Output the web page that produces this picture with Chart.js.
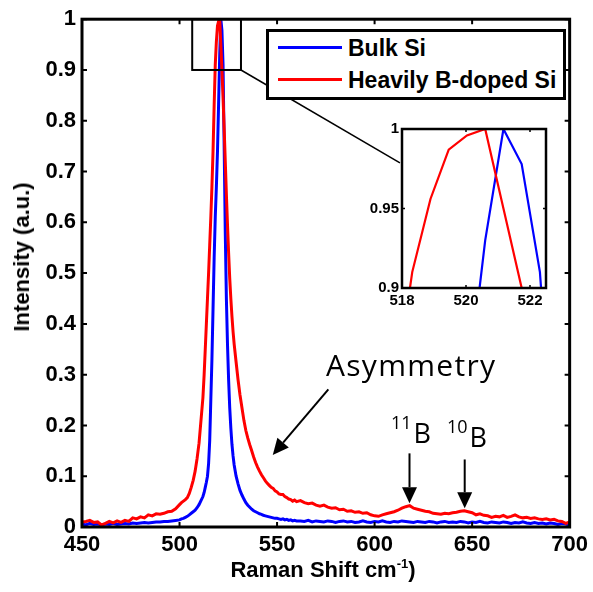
<!DOCTYPE html>
<html>
<head>
<meta charset="UTF-8" />
<title>Raman spectra: bulk vs heavily B-doped Si</title>
<script src="https://cdn.jsdelivr.net/npm/chart.js"></script>
<style>
  body { margin: 0; background: #fff; }
  #wrap { position: relative; width: 593px; height: 592px; overflow: hidden; background: #fff;
          font-family: 'Liberation Sans', Arial, sans-serif; color: #000; }
  canvas { position: absolute; }
  #main { left: 0; top: 0; }
  #inset { left: 355px; top: 112px; }
  .lbl { position: absolute; white-space: nowrap; line-height: 1; }
  .axis-title { font-weight: bold; font-size: 22px; }
  .axis-title sup { font-size: 13px; vertical-align: baseline; position: relative; top: -9px; }
  .note { font-family: 'Open Sans', 'Noto Sans', sans-serif; }
  .note .iso { font-size: 18px; position: relative; top: -14px; margin-right: 2px; }
  .legend { position: absolute; left: 266px; top: 29px; width: 300px; height: 71px;
            box-sizing: border-box; border: 3px solid #000; background: #fff; }
  .legend .sample { position: absolute; left: 9px; width: 64px; height: 3px; }
  .legend .txt { position: absolute; left: 79px; font-weight: bold; font-size: 23px; line-height: 1; white-space: nowrap; }
</style>
</head>
<body>
<div id="wrap">
  <canvas id="main" width="593" height="592" style="width:593px;height:592px"></canvas>
  <canvas id="inset" width="200" height="200" style="width:200px;height:200px"></canvas>

  <div class="legend">
    <div class="sample" style="top:14px;background:#0000ff"></div>
    <div class="txt" style="top:5px">Bulk Si</div>
    <div class="sample" style="top:46px;background:#ff0000"></div>
    <div class="txt" style="top:37px">Heavily B-doped Si</div>
  </div>

  <div class="lbl axis-title" style="left:323px;top:559px;transform:translateX(-50%)">Raman Shift cm<sup>-1</sup>)</div>
  <div class="lbl axis-title" style="left:22px;top:257px;transform:translate(-50%,-50%) rotate(-90deg)">Intensity (a.u.)</div>

  <div class="lbl note" style="left:326px;top:350px;font-size:30px;letter-spacing:1.3px">Asymmetry</div>
  <div class="lbl note" style="left:391px;top:419px;font-size:27px"><span class="iso">11</span>B</div>
  <div class="lbl note" style="left:447px;top:423px;font-size:27px"><span class="iso">10</span>B</div>
</div>

<script>
// Raman shift (cm-1), shared by both spectra
const ramanShift = [
  450, 452, 454, 456, 458, 460, 462, 464, 466, 468, 470, 472, 474, 476, 478, 480, 482, 484, 486, 488, 490, 492, 494, 496, 498,
  500, 501, 502, 503, 504, 505, 506, 507, 508, 509, 510, 511, 512,
  512.62, 513.19, 513.76, 514.33, 514.90, 515.47, 516.04, 516.61, 517.18, 517.75, 518.32, 518.89, 519.46, 520.03,
  520.60,
  521.17, 521.74, 522.31, 522.88, 523.45, 524.02, 524.59, 525.16, 525.73, 526.30, 526.87, 527.44, 528.01,
  529, 530, 531, 532, 533, 534, 535, 536, 537, 538, 539, 540, 541, 542, 543, 544, 545, 546, 547, 548, 549, 550, 551, 552, 553, 554, 555, 556, 557, 558, 559, 560,
  562, 564, 566, 568, 570, 572, 574, 576, 578, 580, 582, 584, 586, 588, 590, 592, 594, 596, 598, 600,
  602, 604, 606, 608, 610, 612, 614, 616, 618, 620, 622, 624, 626, 628, 630, 632, 634, 636, 638, 640,
  642, 644, 646, 648, 650, 652, 654, 656, 658, 660, 662, 664, 666, 668, 670, 672, 674, 676, 678, 680,
  682, 684, 686, 688, 690, 692, 694, 696, 698, 700
]

// Bulk Si, normalised intensity
const bulkIntensity = [
  0.006, 0.004, 0.007, 0.005, 0.006, 0.004, 0.006, 0.005, 0.007, 0.005, 0.006, 0.007, 0.006, 0.008, 0.007, 0.008, 0.009, 0.008, 0.009, 0.010, 0.010, 0.011, 0.011, 0.012, 0.013,
  0.014, 0.016, 0.017, 0.019, 0.021, 0.024, 0.027, 0.030, 0.033, 0.038, 0.044, 0.052, 0.060,
  0.068, 0.078, 0.088, 0.100, 0.125, 0.170, 0.250, 0.330, 0.430, 0.530, 0.610, 0.670, 0.740, 0.833,
  0.930,
  1.000, 0.978, 0.910, 0.750, 0.580, 0.450, 0.360, 0.290, 0.235, 0.195, 0.163, 0.140, 0.122,
  0.100, 0.085, 0.072, 0.063, 0.055, 0.048, 0.043, 0.039, 0.035, 0.032, 0.030, 0.028, 0.026, 0.025, 0.023, 0.022, 0.021, 0.020, 0.019, 0.018, 0.017, 0.017, 0.016, 0.015, 0.016, 0.014, 0.015, 0.013, 0.014, 0.012, 0.013, 0.012,
  0.012, 0.011, 0.013, 0.010, 0.012, 0.011, 0.010, 0.012, 0.011, 0.009, 0.011, 0.012, 0.010, 0.011, 0.009, 0.010, 0.012, 0.010, 0.009, 0.011,
  0.010, 0.012, 0.010, 0.009, 0.011, 0.010, 0.012, 0.011, 0.010, 0.009, 0.011, 0.010, 0.009, 0.011, 0.010, 0.008, 0.010, 0.011, 0.009, 0.010,
  0.009, 0.011, 0.010, 0.008, 0.010, 0.009, 0.011, 0.009, 0.008, 0.010, 0.009, 0.008, 0.010, 0.009, 0.007, 0.009, 0.008, 0.010, 0.008, 0.007,
  0.009, 0.007, 0.008, 0.006, 0.008, 0.007, 0.005, 0.007, 0.006, 0.004
]

// Heavily B-doped Si, normalised intensity
const dopedIntensity = [
  0.010, 0.011, 0.013, 0.009, 0.010, 0.004, 0.007, 0.011, 0.008, 0.012, 0.009, 0.013, 0.011, 0.018, 0.016, 0.020, 0.018, 0.024, 0.022, 0.026, 0.025, 0.027, 0.030, 0.031, 0.036,
  0.044, 0.048, 0.051, 0.054, 0.058, 0.066, 0.078, 0.092, 0.110, 0.135, 0.165, 0.210, 0.255,
  0.300, 0.350, 0.400, 0.450, 0.500, 0.555, 0.610, 0.670, 0.740, 0.830, 0.910, 0.956, 0.987, 0.996,
  1.000,
  0.950, 0.900, 0.845, 0.785, 0.720, 0.655, 0.595, 0.540, 0.490, 0.450, 0.415, 0.385, 0.360,
  0.325, 0.290, 0.260, 0.235, 0.210, 0.190, 0.175, 0.162, 0.150, 0.138, 0.127, 0.118, 0.110, 0.103, 0.097, 0.091, 0.086, 0.082, 0.078, 0.076, 0.071, 0.069, 0.065, 0.064, 0.064, 0.060, 0.058, 0.055, 0.054, 0.051, 0.053, 0.050,
  0.052, 0.048, 0.046, 0.047, 0.043, 0.041, 0.043, 0.039, 0.037, 0.038, 0.034, 0.035, 0.031, 0.032, 0.029, 0.030, 0.027, 0.028, 0.024, 0.022,
  0.021, 0.024, 0.026, 0.028, 0.030, 0.033, 0.037, 0.040, 0.042, 0.037, 0.035, 0.033, 0.031, 0.030, 0.027, 0.026, 0.025, 0.027, 0.026, 0.028,
  0.029, 0.031, 0.032, 0.030, 0.028, 0.024, 0.026, 0.023, 0.022, 0.019, 0.021, 0.020, 0.023, 0.019, 0.021, 0.024, 0.020, 0.018, 0.019, 0.017,
  0.018, 0.016, 0.015, 0.016, 0.014, 0.015, 0.012, 0.011, 0.007, 0.010
]

const xTicks = [450, 500, 550, 600, 650, 700]
const yTicks = [0, 0.1, 0.2, 0.3, 0.4, 0.5, 0.6, 0.7, 0.8, 0.9, 1]
const insetXTicks = [518, 520, 522]
const insetYTicks = [0.9, 0.95, 1]

const toPoints = ys => ramanShift.map((x, i) => ({ x, y: ys[i] }))
const fmt = v => String(+Number(v).toFixed(2))
const tickFont = size => ({ family: "'Liberation Sans', Arial, sans-serif", size, weight: 'bold' })

// box round the plot with inward ticks, matlab style
const framePlugin = {
  id: 'frame',
  afterDatasetsDraw(chart, args, opts) {
    const { ctx, chartArea: a, scales: { x, y } } = chart
    ctx.save()
    ctx.strokeStyle = '#000'
    ctx.lineWidth = opts.tickWidth
    ctx.beginPath()
    x.ticks.forEach(t => {
      const px = x.getPixelForValue(t.value)
      ctx.moveTo(px, a.bottom); ctx.lineTo(px, a.bottom - opts.tickLen)
      ctx.moveTo(px, a.top); ctx.lineTo(px, a.top + opts.tickLen)
    })
    y.ticks.forEach(t => {
      const py = y.getPixelForValue(t.value)
      ctx.moveTo(a.left, py); ctx.lineTo(a.left + opts.tickLen, py)
      ctx.moveTo(a.right, py); ctx.lineTo(a.right - opts.tickLen, py)
    })
    ctx.stroke()
    ctx.lineWidth = opts.width
    ctx.strokeRect(a.left, a.top, a.right - a.left, a.bottom - a.top)
    ctx.restore()
  }
}

function arrow(ctx, [x0, y0], [x1, y1]) {
  const ang = Math.atan2(y1 - y0, x1 - x0)
  const len = 16, half = 7.5
  const bx = x1 - len * Math.cos(ang), by = y1 - len * Math.sin(ang)
  ctx.lineWidth = 2
  ctx.beginPath(); ctx.moveTo(x0, y0); ctx.lineTo(bx, by); ctx.stroke()
  ctx.beginPath()
  ctx.moveTo(x1, y1)
  ctx.lineTo(bx + half * Math.sin(ang), by - half * Math.cos(ang))
  ctx.lineTo(bx - half * Math.sin(ang), by + half * Math.cos(ang))
  ctx.closePath()
  ctx.fill()
}

// zoom box, connector to the inset and the arrows
const notesPlugin = {
  id: 'notes',
  afterDatasetsDraw(chart) {
    const { ctx, scales: { x, y } } = chart
    const P = (vx, vy) => [x.getPixelForValue(vx), y.getPixelForValue(vy)]
    ctx.save()
    ctx.strokeStyle = '#000'
    ctx.fillStyle = '#000'
    const [bx0, by0] = P(506.5, 1)
    const [bx1, by1] = P(531.5, 0.9)
    ctx.lineWidth = 2
    ctx.strokeRect(bx0, by0, bx1 - bx0, by1 - by0)
    ctx.lineWidth = 1.5
    ctx.beginPath(); ctx.moveTo(bx1, by1); ctx.lineTo(...P(613, 0.717)); ctx.stroke()
    arrow(ctx, P(576.3, 0.271), P(547.8, 0.142))
    arrow(ctx, P(617.9, 0.145), P(617.9, 0.047))
    arrow(ctx, P(646.2, 0.133), P(646.2, 0.037))
    ctx.restore()
  }
}

function makeChart(id, cfg) {
  return new Chart(document.getElementById(id).getContext('2d'), {
    type: 'line',
    data: {
      datasets: [
        { label: 'Heavily B-doped Si', data: toPoints(dopedIntensity), borderColor: '#ff0000', borderWidth: cfg.lineWidth, order: 0 },
        { label: 'Bulk Si', data: toPoints(bulkIntensity), borderColor: '#0000ff', borderWidth: cfg.lineWidth, order: 1 }
      ]
    },
    options: {
      responsive: false,
      animation: false,
      devicePixelRatio: 1,
      events: [],
      elements: { point: { radius: 0 }, line: { tension: 0, fill: false } },
      layout: { padding: cfg.padding },
      plugins: { legend: { display: false }, tooltip: { enabled: false }, frame: cfg.frame },
      scales: {
        x: {
          type: 'linear', min: cfg.xMin, max: cfg.xMax,
          grid: { display: false, drawTicks: false }, border: { display: false },
          afterBuildTicks: s => { s.ticks = cfg.xTicks.map(v => ({ value: v })) },
          afterFit: s => { s.height = cfg.xHeight },
          ticks: { font: tickFont(cfg.fontSize), color: '#000', padding: cfg.xPad, maxRotation: 0, autoSkip: false, callback: fmt }
        },
        y: {
          type: 'linear', min: cfg.yMin, max: cfg.yMax,
          grid: { display: false, drawTicks: false }, border: { display: false },
          afterBuildTicks: s => { s.ticks = cfg.yTicks.map(v => ({ value: v })) },
          afterFit: s => { s.width = cfg.yWidth },
          ticks: { font: tickFont(cfg.fontSize), color: '#000', padding: cfg.yPad, autoSkip: false, callback: fmt }
        }
      }
    },
    plugins: cfg.plugins
  })
}

makeChart('main', {
  lineWidth: 3, fontSize: 22,
  xMin: 450, xMax: 700, yMin: 0, yMax: 1, xTicks, yTicks,
  padding: { left: 0, right: 20, top: 19, bottom: 0 },
  xHeight: 65, yWidth: 82, xPad: 5, yPad: 6,
  frame: { width: 3, tickLen: 5, tickWidth: 2 },
  plugins: [notesPlugin, framePlugin]
})

makeChart('inset', {
  lineWidth: 2.2, fontSize: 15,
  xMin: 518, xMax: 522.5, yMin: 0.9, yMax: 1, xTicks: insetXTicks, yTicks: insetYTicks,
  padding: { left: 0, right: 9, top: 17, bottom: 0 },
  xHeight: 24, yWidth: 47, xPad: 4, yPad: 3,
  frame: { width: 2.5, tickLen: 3, tickWidth: 1.5 },
  plugins: [framePlugin]
})
</script>
</body>
</html>
